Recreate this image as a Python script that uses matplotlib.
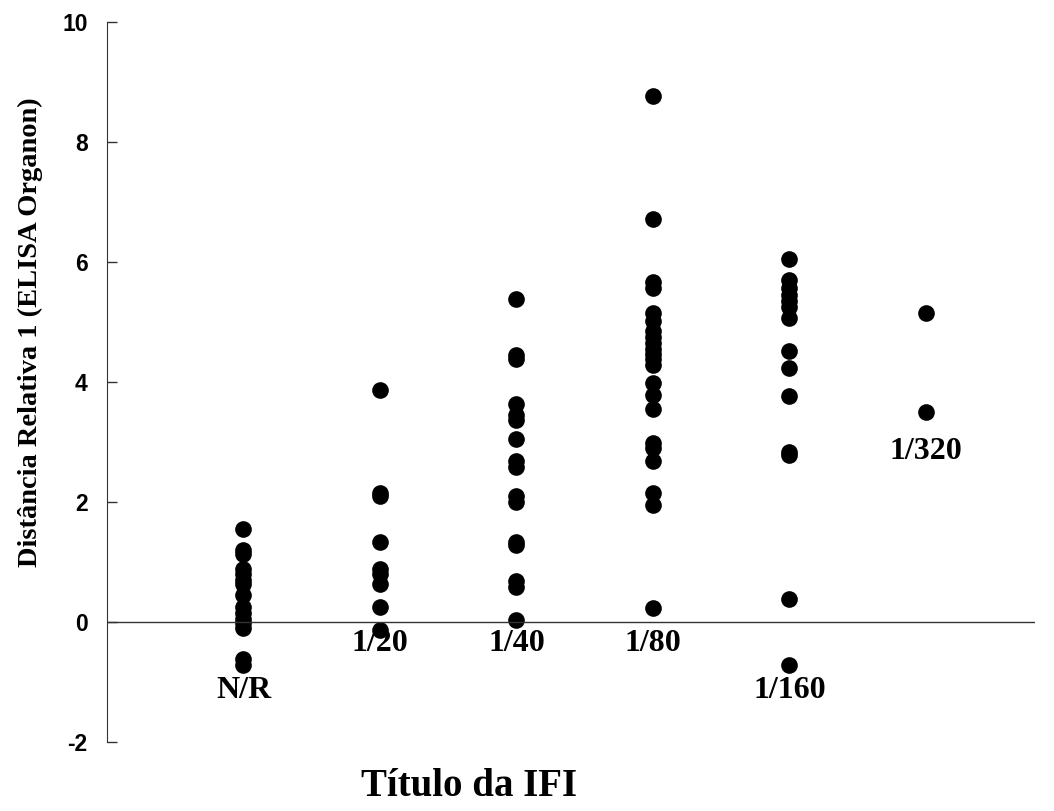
import matplotlib
matplotlib.use("Agg")
import os
import matplotlib.pyplot as plt
from matplotlib import font_manager
from matplotlib.font_manager import FontProperties

plt.rcParams['axes.unicode_minus'] = False

# Distância relativa por título da IFI
grupos = ["N/R", "1/20", "1/40", "1/80", "1/160", "1/320"]
nr = [1.55, 1.2, 1.13, 0.88, 0.8, 0.7, 0.62, 0.45, 0.25, 0.15, 0.05, -0.02, -0.1, -0.62, -0.72]
t20 = [3.86, 2.14, 2.1, 1.33, 0.87, 0.8, 0.62, 0.24, -0.14]
t40 = [5.38, 4.45, 4.38, 3.63, 3.44, 3.36, 3.05, 2.68, 2.58, 2.1, 2.0, 1.33, 1.28, 0.67, 0.58, 0.02]
t80 = [8.76, 6.71, 5.67, 5.56, 5.15, 5.02, 4.85, 4.75, 4.65, 4.55, 4.47, 4.38, 4.28,
       3.98, 3.77, 3.54, 2.97, 2.9, 2.68, 2.14, 1.95, 0.22]
t160 = [6.04, 5.7, 5.57, 5.45, 5.35, 5.24, 5.07, 4.52, 4.23, 3.76, 2.82, 2.77, 0.37, -0.72]
t320 = [5.14, 3.5]
valores = [nr, t20, t40, t80, t160, t320]

# posição (y) do rótulo de cada grupo
rotulo_y = [-1.15, -0.37, -0.37, -0.37, -1.15, 2.83]
yticks = [-2, 0, 2, 4, 6, 8, 10]

# Arial-like bold for the tick labels (avoid the Narrow variant)
arial_bold = [f for f in font_manager.findSystemFonts() if os.path.basename(f) == 'LiberationSans-Bold.ttf']
if arial_bold:
    fp_tick = FontProperties(fname=arial_bold[0], size=16.5)
else:
    fp_tick = FontProperties(family='DejaVu Sans', weight='bold', size=15)

fig = plt.figure(figsize=(10.54, 8.11), dpi=100)
ax = fig.add_axes([0.1015, 0.0855, 0.8805, 0.8877])

for i, vals in enumerate(valores):
    ax.plot([i + 1] * len(vals), vals, 'o', color='black', markersize=12,
            markeredgewidth=0, clip_on=False)
    ax.text(i + 1, rotulo_y[i], grupos[i], ha='center', va='center',
            family='Liberation Serif', fontweight='bold', fontsize=23)

ax.axhline(0, color='#333333', linewidth=1.0)
ax.set_xlim(0, 6.8)
ax.set_ylim(-2, 10)
ax.set_yticks(yticks)
ax.set_yticklabels([str(v) for v in yticks], fontproperties=fp_tick)
ax.set_xticks([])
for s in ['top', 'right', 'bottom']:
    ax.spines[s].set_visible(False)
ax.spines['left'].set_color('#333333')
ax.tick_params(axis='y', direction='in', length=7, width=1, color='#333333', pad=14)

fig.text(30 / 1054, 1 - 332 / 811, "Distância Relativa 1 (ELISA Organon)", rotation=90,
         ha='center', va='center', family='Liberation Serif', fontweight='bold', fontsize=20.5)
fig.text(469 / 1054, 1 - 786 / 811, "Título da IFI", ha='center', va='center',
         family='Liberation Serif', fontweight='bold', fontsize=28)

fig.savefig("out.png", dpi=100)
